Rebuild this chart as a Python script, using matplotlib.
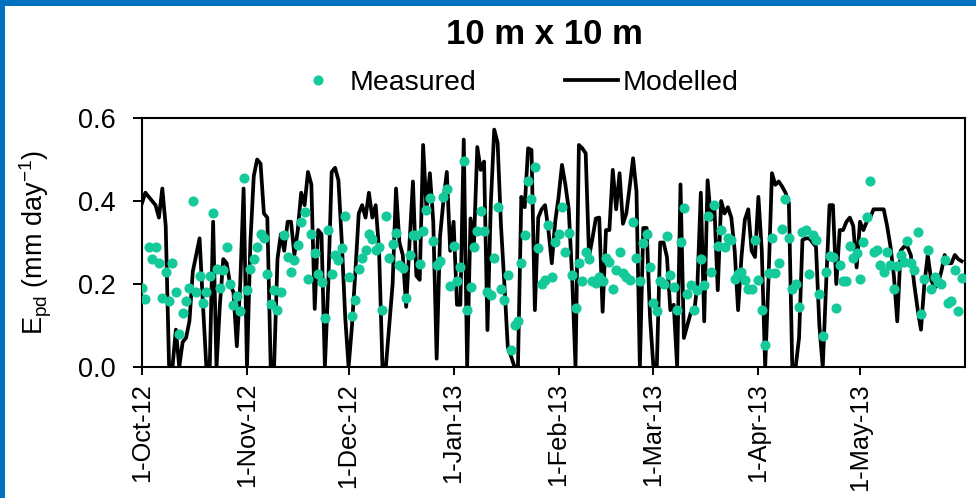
import matplotlib
matplotlib.use("Agg")
import matplotlib.pyplot as plt
import matplotlib.dates as mdates
from matplotlib.patches import Rectangle
from matplotlib.ticker import FuncFormatter
import pandas as pd

plt.rcParams['font.family'] = ['Liberation Sans', 'DejaVu Sans']
plt.rcParams['mathtext.fontset'] = 'custom'
plt.rcParams['mathtext.rm'] = 'Liberation Sans'
plt.rcParams['mathtext.it'] = 'Liberation Sans'

# daily series, 1 Oct 2012 - 31 May 2013
dates = pd.date_range("2012-10-01", periods=243, freq="D")

measured = [
    0.19, 0.165, 0.29, 0.26, 0.29, 0.25, 0.167, 0.23, 0.16, 0.25,
    0.18, 0.08, 0.13, 0.16, 0.19, 0.40, 0.18, 0.22, 0.155, 0.18,
    0.22, 0.37, 0.236, 0.19, 0.234, 0.29, 0.20, 0.15, 0.17, 0.135,
    0.455, 0.185, 0.235, 0.26, 0.29, 0.32, 0.31, 0.225, 0.151, 0.185,
    0.137, 0.18, 0.318, 0.264, 0.228, 0.258, 0.295, 0.349, 0.374, 0.212,
    0.32, 0.275, 0.223, 0.205, 0.117, 0.33, 0.223, 0.27, 0.258, 0.286,
    0.365, 0.217, 0.123, 0.161, 0.235, 0.263, 0.282, 0.32, 0.308, 0.283,
    0.288, 0.138, 0.365, 0.262, 0.296, 0.322, 0.246, 0.238, 0.167, 0.269,
    0.317, 0.318, 0.248, 0.328, 0.378, 0.408, 0.304, 0.246, 0.256, 0.41,
    0.428, 0.195, 0.291, 0.207, 0.24, 0.497, 0.137, 0.193, 0.29, 0.328,
    0.377, 0.328, 0.181, 0.173, 0.262, 0.385, 0.188, 0.161, 0.221, 0.04,
    0.102, 0.111, 0.25, 0.318, 0.449, 0.404, 0.483, 0.286, 0.201, 0.209,
    0.342, 0.217, 0.302, 0.32, 0.386, 0.278, 0.322, 0.221, 0.143, 0.251,
    0.207, 0.278, 0.26, 0.208, 0.203, 0.217, 0.208, 0.262, 0.254, 0.189,
    0.234, 0.278, 0.227, 0.217, 0.209, 0.349, 0.262, 0.207, 0.30, 0.32,
    0.242, 0.155, 0.134, 0.207, 0.199, 0.316, 0.221, 0.193, 0.137, 0.302,
    0.383, 0.176, 0.197, 0.137, 0.185, 0.26, 0.197, 0.365, 0.228, 0.391,
    0.291, 0.329, 0.288, 0.31, 0.306, 0.211, 0.224, 0.228, 0.209, 0.188,
    0.188, 0.306, 0.209, 0.137, 0.052, 0.227, 0.312, 0.227, 0.25, 0.332,
    0.404, 0.312, 0.187, 0.2, 0.145, 0.326, 0.329, 0.224, 0.318, 0.306,
    0.177, 0.075, 0.23, 0.268, 0.266, 0.143, 0.246, 0.207, 0.207, 0.291,
    0.262, 0.274, 0.213, 0.302, 0.362, 0.449, 0.278, 0.282, 0.246, 0.23,
    0.278, 0.246, 0.187, 0.243, 0.27, 0.254, 0.304, 0.25, 0.234, 0.325,
    0.127, 0.211, 0.282, 0.187, 0.217, 0.205, 0.201, 0.259, 0.155, 0.159,
    0.234, 0.135, 0.215,
]

modelled = [
    0.395, 0.42, 0.41, 0.40, 0.39, 0.36, 0.43, 0.34, 0.0, 0.0,
    0.09, 0.0, 0.06, 0.07, 0.11, 0.23, 0.27, 0.31, 0.15, 0.0,
    0.0, 0.35, 0.0, 0.15, 0.26, 0.25, 0.20, 0.18, 0.05, 0.20,
    0.43, 0.0, 0.30, 0.46, 0.50, 0.49, 0.37, 0.36, 0.0, 0.0,
    0.26, 0.32, 0.28, 0.35, 0.35, 0.27, 0.33, 0.42, 0.39, 0.47,
    0.44, 0.14, 0.33, 0.32, 0.0, 0.20, 0.47, 0.48, 0.45, 0.30,
    0.12, 0.0, 0.10, 0.23, 0.37, 0.39, 0.36, 0.42, 0.36, 0.39,
    0.28, 0.0, 0.0, 0.10, 0.20, 0.43, 0.30, 0.27, 0.145, 0.30,
    0.447, 0.22, 0.21, 0.535, 0.38, 0.467, 0.35, 0.02, 0.315, 0.40,
    0.47, 0.28, 0.35, 0.15, 0.15, 0.548, 0.0, 0.358, 0.295, 0.53,
    0.475, 0.495, 0.089, 0.395, 0.572, 0.54, 0.34, 0.20, 0.048, 0.025,
    0.0, 0.0, 0.41, 0.385, 0.527, 0.523, 0.137, 0.36, 0.38, 0.39,
    0.33, 0.25, 0.35, 0.41, 0.487, 0.44, 0.38, 0.217, 0.0, 0.535,
    0.527, 0.515, 0.266, 0.31, 0.358, 0.36, 0.133, 0.33, 0.33, 0.475,
    0.38, 0.467, 0.345, 0.37, 0.435, 0.503, 0.423, 0.0, 0.335, 0.335,
    0.12, 0.0, 0.0, 0.30, 0.30, 0.265, 0.137, 0.15, 0.0, 0.44,
    0.07, 0.10, 0.13, 0.13, 0.20, 0.42, 0.11, 0.45, 0.355, 0.385,
    0.185, 0.40, 0.37, 0.385, 0.36, 0.28, 0.137, 0.265, 0.355, 0.38,
    0.28, 0.265, 0.41, 0.28, 0.0, 0.217, 0.467, 0.439, 0.447, 0.435,
    0.42, 0.395, 0.0, 0.0, 0.07, 0.306, 0.31, 0.31, 0.30, 0.29,
    0.10, 0.0, 0.20, 0.39, 0.39, 0.20, 0.33, 0.33, 0.35, 0.36,
    0.34, 0.24, 0.35, 0.33, 0.35, 0.36, 0.38, 0.38, 0.38, 0.38,
    0.34, 0.29, 0.22, 0.11, 0.28, 0.29, 0.29, 0.27, 0.20, 0.14,
    0.09, 0.20, 0.27, 0.21, 0.19, 0.20, 0.23, 0.27, 0.25, 0.25,
    0.27, 0.26, 0.255,
]

month_ticks = pd.date_range("2012-10-01", "2013-05-01", freq="MS")
y_ticks = [0.0, 0.2, 0.4, 0.6]

TEAL = "#14C99A"
BORDER = "#0070C0"

fig = plt.figure(figsize=(9.76, 4.98), dpi=100)
ax = fig.add_axes([142 / 976, 1 - 367 / 498, 823 / 976, 249 / 498])

ax.plot(dates, modelled, color="black", lw=2.7, label="Modelled", zorder=2)
ax.plot(dates, measured, "o", color=TEAL, ms=7.3, mew=0, label="Measured", zorder=3)

ax.set_xlim(pd.Timestamp("2012-10-01"), pd.Timestamp("2013-06-01"))
ax.set_ylim(0, 0.6)
ax.set_xticks(month_ticks)
ax.xaxis.set_major_formatter(
    FuncFormatter(lambda v, pos: (lambda d: f"{d.day}-{d:%b-%y}")(mdates.num2date(v))))
ax.set_yticks(y_ticks)
ax.yaxis.set_major_formatter(FuncFormatter(lambda v, pos: f"{v:.1f}"))
ax.tick_params(axis="both", width=1.4, direction="out")
ax.tick_params(axis="x", labelsize=18.3, labelrotation=90, length=6, pad=5.5)
ax.tick_params(axis="y", labelsize=19.5, length=6.5, pad=12.5)
for sp in ax.spines.values():
    sp.set_linewidth(1.5)

ax.set_ylabel(r"E$_{\mathregular{pd}}$ (mm day$^{\mathregular{-1}}$)", fontsize=19.5)
ax.yaxis.set_label_coords(-0.107, 0.5)

fig.text(544 / 976, 1 - 34 / 498, "10 m x 10 m", ha="center", va="center",
         fontsize=25, fontweight="bold")

h, l = ax.get_legend_handles_labels()
fig.legend(h[::-1], l[::-1], loc="center", bbox_to_anchor=(515 / 976, 1 - 83 / 498),
           ncol=2, frameon=False, fontsize=20.5, handlelength=1.86,
           handletextpad=0.18, columnspacing=3.1, borderpad=0)

# blue frame along the top and left edges
fig.add_artist(Rectangle((0, 0), 5 / 976, 1, transform=fig.transFigure,
                         color=BORDER, lw=0))
fig.add_artist(Rectangle((0, 1 - 6 / 498), 1, 6 / 498, transform=fig.transFigure,
                         color=BORDER, lw=0))

fig.savefig("out.png", dpi=100)
